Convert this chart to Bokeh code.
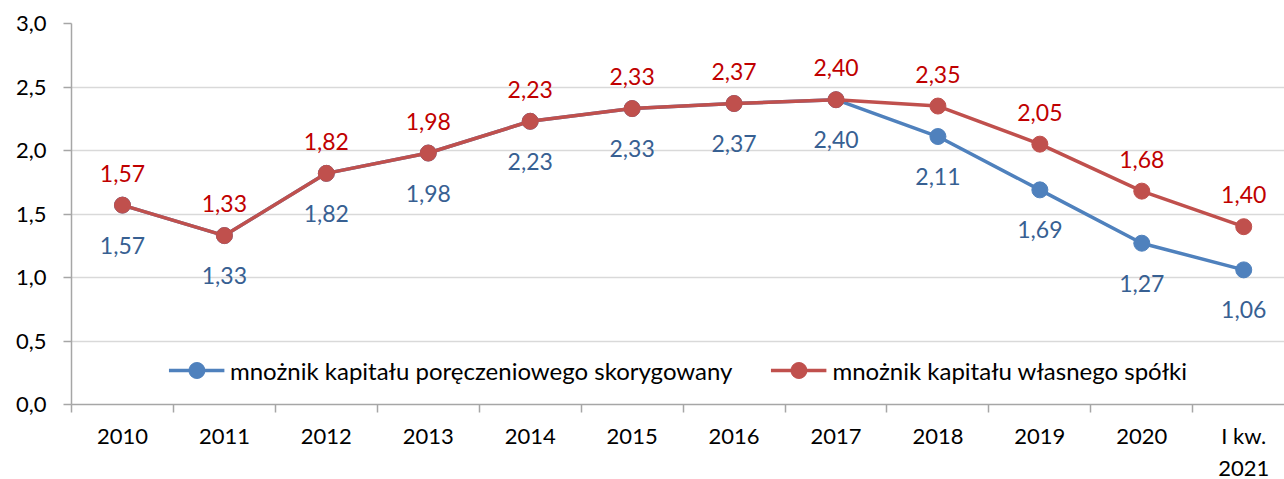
from bokeh.plotting import figure
from bokeh.models import Range1d, FixedTicker, ColumnDataSource, Legend, LegendItem
from bokeh.embed import file_html
from bokeh.resources import INLINE
from bokeh.core.properties import value

categories = ["2010", "2011", "2012", "2013", "2014", "2015", "2016", "2017",
              "2018", "2019", "2020", "I kw.\n2021"]
blue_vals = [1.57, 1.33, 1.82, 1.98, 2.23, 2.33, 2.37, 2.40, 2.11, 1.69, 1.27, 1.06]
red_vals = [1.57, 1.33, 1.82, 1.98, 2.23, 2.33, 2.37, 2.40, 2.35, 2.05, 1.68, 1.40]
blue_name = "mnożnik kapitału poręczeniowego skorygowany"
red_name = "mnożnik kapitału własnego spółki"
y_ticks = [0.0, 0.5, 1.0, 1.5, 2.0, 2.5, 3.0]

FONT = "Lato"
BLUE = "#4f81bd"
RED = "#c0504d"
BLUE_TXT = "#376092"
RED_TXT = "#c00000"

xs = list(range(len(categories)))
fmt = lambda v: f"{v:.2f}".replace(".", ",")

src_b = ColumnDataSource(dict(x=xs, y=blue_vals, lab=[fmt(v) for v in blue_vals]))
src_r = ColumnDataSource(dict(x=xs, y=red_vals, lab=[fmt(v) for v in red_vals]))

p = figure(frame_width=1213, frame_height=381, output_backend="svg", toolbar_location=None,
           x_range=Range1d(-0.5, 11.4), y_range=Range1d(0, 3.0),
           min_border_left=71, min_border_right=0, min_border_top=23, min_border_bottom=70)
p.outline_line_color = None
p.background_fill_color = "white"

# axes
p.xaxis.ticker = FixedTicker(ticks=xs, minor_ticks=[i - 0.5 for i in range(len(categories) + 1)])
p.xaxis.major_label_overrides = {i: c for i, c in enumerate(categories)}
p.xaxis.major_tick_line_color = None
p.xaxis.minor_tick_out = 8
p.xaxis.minor_tick_in = 0
p.xaxis.minor_tick_line_color = "#a6a6a6"
p.xaxis.minor_tick_line_width = 1.5
p.xaxis.major_label_standoff = 9
p.yaxis.ticker = FixedTicker(ticks=y_ticks, minor_ticks=[])
p.yaxis.major_label_overrides = {t: f"{t:.1f}".replace(".", ",") for t in y_ticks}
p.yaxis.major_tick_out = 8
p.yaxis.major_tick_in = 0
p.yaxis.major_tick_line_color = "#a6a6a6"
p.yaxis.major_tick_line_width = 1.5
p.yaxis.major_label_standoff = 17
for ax in (p.xaxis, p.yaxis):
    ax.axis_line_color = "#a6a6a6"
    ax.axis_line_width = 1.5
    ax.major_label_text_font = FONT
    ax.major_label_text_font_size = "22px"
    ax.major_label_text_color = "black"
p.xgrid.grid_line_color = None
p.ygrid.grid_line_color = "#d9d9d9"
p.ygrid.grid_line_width = 1.5
p.ygrid.ticker = FixedTicker(ticks=y_ticks[1:])

# series
lb = p.line("x", "y", source=src_b, line_color=BLUE, line_width=3.5)
sb = p.scatter("x", "y", source=src_b, size=16, fill_color=BLUE, line_color=BLUE)
lr = p.line("x", "y", source=src_r, line_color=RED, line_width=3.5)
sr = p.scatter("x", "y", source=src_r, size=16, fill_color=RED, line_color=RED)

p.text("x", "y", text="lab", source=src_b, text_color=BLUE_TXT, text_font=value(FONT),
       text_font_size="23px", text_align="center", text_baseline="middle", y_offset=40)
p.text("x", "y", text="lab", source=src_r, text_color=RED_TXT, text_font=value(FONT),
       text_font_size="23px", text_align="center", text_baseline="middle", y_offset=-32)

legend = Legend(items=[LegendItem(label=blue_name, renderers=[lb, sb]),
                       LegendItem(label=red_name, renderers=[lr, sr])],
                location="bottom_center", orientation="horizontal")
legend.label_text_font = FONT
legend.label_text_font_size = "24px"
legend.label_text_color = "black"
legend.glyph_width = 56
legend.glyph_height = 40
legend.label_standoff = 6
legend.spacing = 38
legend.padding = 0
legend.margin = 14
legend.border_line_color = None
legend.background_fill_color = "white"
legend.background_fill_alpha = 1.0
p.add_layout(legend, "center")

open("out.html", "w").write(file_html(p, INLINE))
